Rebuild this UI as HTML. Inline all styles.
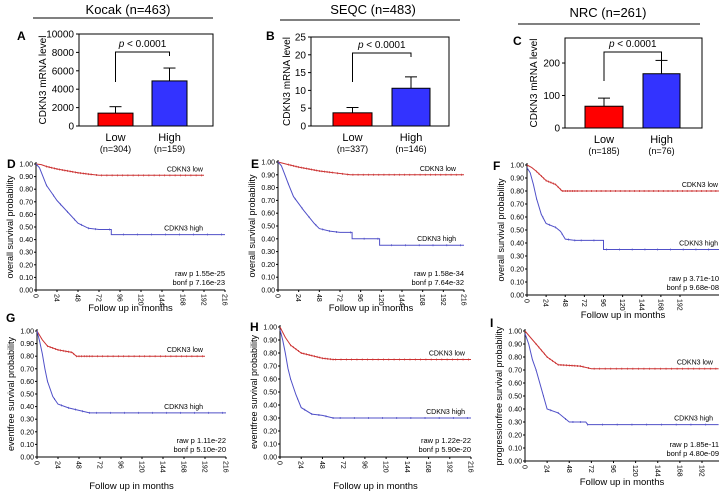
<!DOCTYPE html>
<html><head><meta charset="utf-8">
<style>
html,body{margin:0;padding:0;background:#fff;}
svg{display:block;font-family:"Liberation Sans",Arial,sans-serif;}
</style></head>
<body>
<svg id="s" width="724" height="492" viewBox="0 0 724 492" xmlns="http://www.w3.org/2000/svg"></svg>
<script>
var S=document.getElementById('s');var out='';
function t(x,y,s,sz,anc,extra){out+='<text x="'+x+'" y="'+y+'" font-size="'+sz+'" text-anchor="'+(anc||'start')+'" '+(extra||'')+'>'+s+'</text>';}
function l(x1,y1,x2,y2,c,w){out+='<line x1="'+x1+'" y1="'+y1+'" x2="'+x2+'" y2="'+y2+'" stroke="'+(c||'#000')+'" stroke-width="'+(w||1)+'"/>';}
function bar(o){
 var sc=function(v){return o.yb-(v/o.ymax)*(o.yb-o.yt);};
 t(o.tc,o.ty,o.title,13,'middle');
 l(o.lx1,o.ly,o.lx2,o.ly,'#000',1);
 t(o.lettx,o.letty,o.letter,12,'start','font-weight="bold"');
 out+='<rect x="'+o.bx1+'" y="'+o.yt+'" width="'+(o.bx2-o.bx1)+'" height="'+(o.yb-o.yt)+'" fill="none" stroke="#000" stroke-width="1"/>';
 o.ticks.forEach(function(v){var y=sc(v);l(o.bx1-3,y,o.bx1,y);t(o.bx1-5,y+3.5,v,10,'end');});
 var bars=[[o.low,'#ff0000',o.le],[o.high,'#3333ff',o.he]];
 var xs=[[o.l1,o.l2],[o.h1,o.h2]];
 for(var i=0;i<2;i++){var c=(xs[i][0]+xs[i][1])/2,w=xs[i][1]-xs[i][0];
  l(c,sc(bars[i][0]),c,sc(bars[i][2]));l(c-6,sc(bars[i][2]),c+6,sc(bars[i][2]));
  out+='<rect x="'+xs[i][0]+'" y="'+sc(bars[i][0])+'" width="'+w+'" height="'+(o.yb-sc(bars[i][0]))+'" fill="'+bars[i][1]+'" stroke="#000" stroke-width="1"/>';
  t(c,o.yb+15,i?'High':'Low',11,'middle');
  t(c,o.yb+26,i?o.nh:o.nl,9,'middle');}
 var c1=(o.l1+o.l2)/2,c2=(o.h1+o.h2)/2;
 out+='<polyline points="'+c1+','+o.bl+' '+c1+','+o.bt+' '+c2+','+o.bt+' '+c2+','+o.bh+'" fill="none" stroke="#000" stroke-width="1"/>';
 t((c1+c2)/2,o.bt-5,'<tspan font-style="italic">p</tspan> &lt; 0.0001',10,'middle');
 out+='<text transform="translate('+o.ylx+','+(o.yt+o.yb)/2+') rotate(-90)" font-size="10" text-anchor="middle">CDKN3 mRNA level</text>';
}
bar({title:'Kocak  (n=463)',tc:128,ty:14,lx1:33,lx2:213,ly:18,letter:'A',lettx:17,letty:40,bx1:79,bx2:213,yt:34,yb:126,ymax:10000,ticks:[0,2000,4000,6000,8000,10000],
 l1:98,l2:133,h1:152,h2:187,low:1400,le:2100,high:4900,he:6300,nl:'(n=304)',nh:'(n=159)',bt:52,bl:82,bh:56,ylx:46});
bar({title:'SEQC (n=483)',tc:373,ty:14,lx1:280,lx2:460,ly:20,letter:'B',lettx:266,letty:40,bx1:311,bx2:449,yt:37,yb:126,ymax:25,ticks:[0,5,10,15,20,25],
 l1:333,l2:372,h1:392,h2:430,low:3.7,le:5.2,high:10.6,he:13.8,nl:'(n=337)',nh:'(n=146)',bt:53,bl:82,bh:57,ylx:290});
bar({title:'NRC (n=261)',tc:608,ty:17,lx1:518,lx2:700,ly:24,letter:'C',lettx:513,letty:45,bx1:565,bx2:702,yt:38,yb:128,ymax:277,ticks:[0,100,200],
 l1:585,l2:623,h1:643,h2:680,low:67,le:92,high:167,he:208,nl:'(n=185)',nh:'(n=76)',bt:52,bl:81,bh:60,ylx:537});
function km(o){
 var X=function(m){return o.x0+m*o.ppm;},Y=function(v){return o.y0-v*(o.y0-o.y1);};
 t(o.lx,o.ly,o.letter,12,'start','font-weight="bold"');
 l(o.x0,o.y1-2,o.x0,o.y0,'#000',1);l(o.x0,o.y0,o.xe,o.y0,'#000',1);
 for(var i=0;i<=10;i++){var v=i/10,y=Y(v);l(o.x0-2,y,o.x0,y);t(o.x0-3,y+2.5,v.toFixed(2),7,'end');}
 for(var m=0;m<=o.tmax;m+=24){var x=X(m);l(x,o.y0,x,o.y0+2);out+='<text transform="translate('+(x-2.5)+','+(o.y0+4)+') rotate(90)" font-size="7">'+m+'</text>';}
 t((o.x0+o.xe)/2,o.y0+(o.fy||22),'Follow up in months',9.5,'middle');
 out+='<text transform="translate('+(o.x0-23)+','+(o.y0+o.y1)/2+') rotate(-90)" font-size="9" text-anchor="middle">'+o.yl+'</text>';
 [[o.low,'#cc3333',3],[o.high,'#5050c8',8]].forEach(function(c){
  var p=c[0].map(function(q){return X(q[0]).toFixed(1)+','+Y(q[1]).toFixed(1);}).join(' ');
  out+='<polyline points="'+p+'" fill="none" stroke="'+c[1]+'" stroke-width="1"/>';
  var pts=c[0];var end=pts[pts.length-1][0];
  for(var m=12;m<end;m+=c[2]*(m>60?2:1)){var v=interp(pts,m);var x=X(m),y=Y(v);l(x,y-1,x,y+1,c[1],0.7);}
 });
 var r=o.tr;
 t(r,Y(o.low[o.low.length-1][1])-4,'CDKN3 low',7,'end');
 t(r,Y(o.high[o.high.length-1][1])-4,'CDKN3 high',7,'end');
 t(o.xe,o.y0-14,'raw p '+o.p1,7.5,'end');
 t(o.xe,o.y0-5,'bonf p '+o.p2,7.5,'end');
}
function interp(p,m){for(var i=1;i<p.length;i++){if(p[i][0]>=m){var a=p[i-1],b=p[i];if(b[0]==a[0])return b[1];return a[1]+(b[1]-a[1])*(m-a[0])/(b[0]-a[0]);}}return p[p.length-1][1];}
var ovl='overall survival probability',evt='eventfree survival probability';
km({letter:'D',lx:7,ly:168,x0:36,xe:225,ppm:189/216,tmax:216,y1:164,y0:290,fy:21,yl:ovl,tr:203,p1:'1.55e-25',p2:'7.16e-23',
 low:[[0,1],[6,.995],[12,.98],[24,.96],[36,.945],[48,.93],[60,.92],[72,.91],[192,.91]],
 high:[[0,1],[4,.97],[8,.9],[12,.83],[18,.77],[24,.71],[36,.62],[48,.53],[60,.49],[72,.48],[86,.48],[86,.44],[216,.44]]});
km({letter:'E',lx:251,ly:168,x0:278,xe:464,ppm:186/216,tmax:216,y1:162,y0:290,fy:21,yl:ovl,tr:456,p1:'1.58e-34',p2:'7.64e-32',
 low:[[0,1],[12,.98],[24,.96],[48,.93],[72,.91],[84,.90],[216,.90]],
 high:[[0,1],[4,.97],[8,.9],[12,.83],[18,.73],[30,.62],[42,.52],[48,.48],[60,.46],[72,.45],[86,.45],[86,.40],[118,.40],[118,.35],[216,.35]]});
km({letter:'F',lx:493,ly:170,x0:527,xe:719,ppm:153/192,tmax:192,y1:165,y0:295,fy:23,yl:ovl,tr:718,p1:'3.71e-10',p2:'9.68e-08',
 low:[[0,1],[6,.98],[12,.95],[24,.88],[36,.85],[44,.80],[241,.80]],
 high:[[0,.98],[4,.94],[8,.85],[12,.74],[18,.62],[24,.55],[36,.52],[42,.49],[48,.43],[60,.42],[78,.42],[96,.42],[96,.35],[241,.35]]});
km({letter:'G',lx:6,ly:322,x0:37,xe:226,ppm:189/216,tmax:216,y1:331,y0:457,fy:32,yl:evt,tr:203,p1:'1.11e-22',p2:'5.10e-20',
 low:[[0,1],[6,.93],[12,.88],[24,.85],[40,.83],[45,.80],[192,.80]],
 high:[[0,1],[3,.92],[6,.82],[9,.7],[12,.6],[18,.48],[24,.42],[36,.39],[48,.37],[60,.35],[216,.35]]});
km({letter:'H',lx:250,ly:331,x0:280,xe:471,ppm:191/216,tmax:216,y1:327,y0:457,fy:32,yl:evt,tr:465,p1:'1.22e-22',p2:'5.90e-20',
 low:[[0,1],[6,.92],[12,.86],[24,.80],[48,.76],[60,.75],[216,.75]],
 high:[[0,.98],[3,.9],[6,.8],[9,.68],[12,.6],[18,.48],[24,.38],[36,.33],[48,.32],[60,.30],[216,.30]]});
km({letter:'I',lx:490,ly:327,x0:525,xe:719,ppm:177/192,tmax:192,y1:331,y0:461,fy:24,yl:'progressionfree survival probability',tr:713,p1:'1.85e-11',p2:'4.80e-09',
 low:[[0,1],[6,.95],[12,.90],[24,.80],[36,.74],[60,.73],[72,.71],[210,.71]],
 high:[[0,.98],[4,.9],[8,.78],[12,.7],[18,.55],[24,.40],[36,.37],[48,.30],[66,.30],[68,.28],[210,.28]]});
S.innerHTML=out;
</script>
</body></html>
